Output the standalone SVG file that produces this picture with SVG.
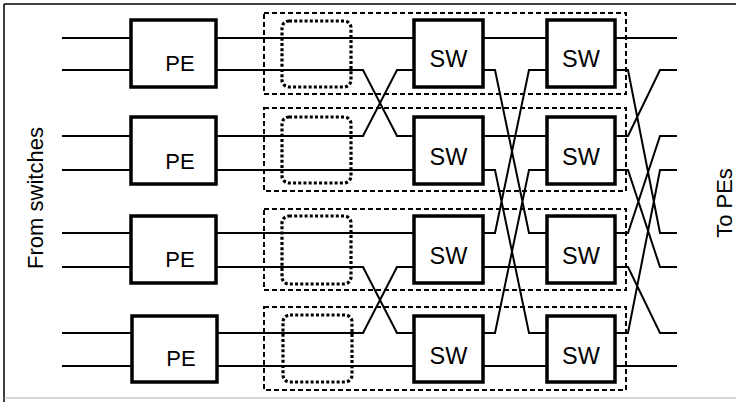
<svg xmlns="http://www.w3.org/2000/svg" width="736" height="402" viewBox="0 0 736 402">
<style>
.frame{fill:none;stroke:#000;stroke-width:1.5}
.box{fill:#fff;stroke:#000;stroke-width:3.5}
.wire{fill:none;stroke:#000;stroke-width:2;stroke-linejoin:miter}
.grp{fill:none;stroke:#000;stroke-width:2;stroke-dasharray:5 3}
.buf{fill:none;stroke:#000;stroke-width:3.2;stroke-dasharray:3 2.2}
.lbl{font-family:"Liberation Sans",Arial,Helvetica,sans-serif;font-size:22px;fill:#000;text-anchor:middle}
.sw{font-size:23.5px}
</style>
<rect width="736" height="402" fill="#fff"/>
<g id="frame">
<line class="frame" x1="4" y1="4" x2="736" y2="4"/>
<line class="frame" x1="4" y1="4" x2="4" y2="402"/>
<line x1="4" y1="398" x2="736" y2="398" stroke="#aaa" stroke-width="1"/>
</g>
<text class="lbl" transform="translate(43,198) rotate(-90)">From switches</text>
<text class="lbl" transform="translate(732,203) rotate(-90)">To PEs</text>

<g id="groups">
<rect id="group1" class="grp" x="264" y="13" width="362" height="81"/>
<rect id="group2" class="grp" x="264" y="108" width="362" height="83"/>
<rect id="group3" class="grp" x="264" y="209" width="362" height="81"/>
<rect id="group4" class="grp" x="264" y="307" width="362" height="83"/>
</g>
<g id="buffers">
<rect id="buf1" class="buf" x="282" y="21" width="69" height="66" rx="7"/>
<rect id="buf2" class="buf" x="282" y="117" width="69" height="66" rx="7"/>
<rect id="buf3" class="buf" x="282" y="216" width="69" height="68" rx="7"/>
<rect id="buf4" class="buf" x="283" y="315" width="69" height="67" rx="7"/>
</g>

<g id="connectors">
<path class="wire" d="M62 38H131M62 70H131M62 136H131M62 170H131M62 233H131M62 267H131M62 333H131M62 366H131"/>
<path class="wire" d="M216 38H414M216 70H363L397 136H414M216 136H363L397 70H414M216 170H414M216 233H414M216 267H363L397 333H414M216 333H363L397 267H414M216 366H414"/>
<path class="wire" d="M483 38H547M483 70H495L529 233H547M483 136H547M483 170H495L529 333H547M483 233H495L529 70H547M483 267H547M483 333H495L529 170H547M483 366H547"/>
<path class="wire" d="M615 38H677M615 70H628L660 233H677M615 136H628L660 70H677M615 170H628L660 267H677M615 233H628L660 136H677M615 267H628L660 333H677M615 333H628L660 170H677M615 366H677"/>
</g>

<g id="pe1"><rect class="box" x="131" y="20" width="85" height="67"/><text class="lbl" x="180" y="71">PE</text></g>
<g id="pe2"><rect class="box" x="131" y="117" width="85" height="67"/><text class="lbl" x="180" y="169">PE</text></g>
<g id="pe3"><rect class="box" x="131" y="216" width="85" height="67"/><text class="lbl" x="180" y="267">PE</text></g>
<g id="pe4"><rect class="box" x="132" y="316" width="85" height="66"/><text class="lbl" x="181" y="366">PE</text></g>

<g id="sw1a"><rect class="box" x="414" y="20" width="69" height="67"/><text class="lbl sw" x="448.5" y="67">SW</text></g>
<g id="sw2a"><rect class="box" x="414" y="117" width="69" height="67"/><text class="lbl sw" x="448.5" y="165">SW</text></g>
<g id="sw3a"><rect class="box" x="414" y="216" width="69" height="67"/><text class="lbl sw" x="448.5" y="264">SW</text></g>
<g id="sw4a"><rect class="box" x="414" y="316" width="69" height="66"/><text class="lbl sw" x="448.5" y="364">SW</text></g>

<g id="sw1b"><rect class="box" x="547" y="20" width="68" height="67"/><text class="lbl sw" x="581" y="67">SW</text></g>
<g id="sw2b"><rect class="box" x="547" y="117" width="68" height="67"/><text class="lbl sw" x="581" y="165">SW</text></g>
<g id="sw3b"><rect class="box" x="547" y="216" width="68" height="67"/><text class="lbl sw" x="581" y="264">SW</text></g>
<g id="sw4b"><rect class="box" x="547" y="316" width="68" height="66"/><text class="lbl sw" x="581" y="364">SW</text></g>
</svg>
